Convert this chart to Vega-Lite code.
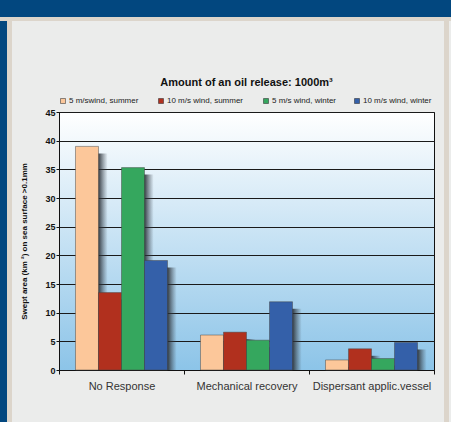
{
  "$schema": "https://vega.github.io/schema/vega-lite/v6.json",
  "background": "#ebeceb",
  "padding": 0,
  "spacing": 0,
  "config": {"font": "Liberation Sans", "view": {"stroke": null}},
  "resolve": {"scale": {"color": "independent"}, "legend": {"color": "independent"}},
  "vconcat": [
    {"width": 451, "height": 17, "data": {"values": []}, "mark": "rect", "encoding": {}, "view": {"fill": "#02477f", "stroke": null}},
    {"width": 451, "height": 4, "data": {"values": []}, "mark": "rect", "encoding": {}, "view": {"fill": "#dcd5cb", "stroke": null}},
    {
      "spacing": 0,
      "resolve": {"scale": {"color": "independent"}, "legend": {"color": "independent"}},
      "hconcat": [
        {"width": 7, "height": 401, "data": {"values": []}, "mark": "rect", "encoding": {}, "view": {"fill": "#02477f", "stroke": null}},
        {"width": 5, "height": 401, "data": {"values": []}, "mark": "rect", "encoding": {}, "view": {"fill": "#dcd5cb", "stroke": null}},
        {"width": 8, "height": 1, "data": {"values": []}, "mark": "rect", "encoding": {}, "view": {"stroke": null}},
        {
          "spacing": 0,
          "resolve": {"scale": {"color": "independent"}, "legend": {"color": "independent"}},
          "vconcat": [
            {"width": 1, "height": 55, "data": {"values": []}, "mark": "rect", "encoding": {}, "view": {"stroke": null}},
            {
              "width": 375,
              "height": 258,
              "title": {"text": "Amount of an oil release: 1000m³", "fontSize": 11, "fontWeight": "bold", "color": "#111111", "offset": 9, "anchor": "middle"},
              "data": {"values": [
                {"response": "No Response", "scenario": "5 m/swind,  summer", "area": 39.0},
                {"response": "No Response", "scenario": "10 m/s wind,  summer", "area": 13.5},
                {"response": "No Response", "scenario": "5 m/s wind, winter", "area": 35.3},
                {"response": "No Response", "scenario": "10 m/s wind, winter", "area": 19.1},
                {"response": "Mechanical recovery", "scenario": "5 m/swind,  summer", "area": 6.1},
                {"response": "Mechanical recovery", "scenario": "10 m/s wind,  summer", "area": 6.6},
                {"response": "Mechanical recovery", "scenario": "5 m/s wind, winter", "area": 5.2},
                {"response": "Mechanical recovery", "scenario": "10 m/s wind, winter", "area": 11.9},
                {"response": "Dispersant applic.vessel", "scenario": "5 m/swind,  summer", "area": 1.75},
                {"response": "Dispersant applic.vessel", "scenario": "10 m/s wind,  summer", "area": 3.7},
                {"response": "Dispersant applic.vessel", "scenario": "5 m/s wind, winter", "area": 2.0},
                {"response": "Dispersant applic.vessel", "scenario": "10 m/s wind, winter", "area": 4.8}
              ]},
              "view": {
                "fill": {"gradient": "linear", "x1": 0, "y1": 0, "x2": 0, "y2": 1, "stops": [{"offset": 0, "color": "#ffffff"}, {"offset": 1, "color": "#8cc4e8"}]},
                "stroke": "#111111",
                "strokeWidth": 1
              },
              "resolve": {"scale": {"xOffset": "independent"}},
              "encoding": {
                "x": {
                  "field": "response", "type": "nominal",
                  "sort": ["No Response", "Mechanical recovery", "Dispersant applic.vessel"],
                  "scale": {"paddingInner": 0, "paddingOuter": 0},
                  "axis": {"title": null, "labelAngle": 0, "tickBand": "extent", "tickSize": 4, "tickColor": "#111111", "domainColor": "#111111", "labelFontSize": 11, "labelColor": "#333333", "labelPadding": 6}
                },
                "y": {
                  "field": "area", "type": "quantitative",
                  "scale": {"domain": [0, 45]},
                  "axis": {"values": [0, 5, 10, 15, 20, 25, 30, 35, 40, 45], "title": "Swept area (km ²) on sea surface >0.1mm", "titleFontSize": 8, "titleFontWeight": "bold", "titleColor": "#111111", "titlePadding": 16, "labelFontSize": 9, "labelFontWeight": "bold", "labelColor": "#111111", "labelPadding": 1, "tickSize": 3, "tickColor": "#111111", "domainColor": "#111111", "gridColor": "#1a1a1a", "gridWidth": 1, "gridOpacity": 1}
                }
              },
              "layer": [
                {
                  "mark": {"type": "bar", "yOffset": 7, "clip": true,
                    "fill": {"gradient": "linear", "x1": 0, "y1": 0, "x2": 1, "y2": 0, "stops": [{"offset": 0, "color": "#1e2226"}, {"offset": 0.6, "color": "#262b31"}, {"offset": 1, "color": "rgba(70,80,90,0)"}]},
                    "opacity": 0.9},
                  "encoding": {
                    "xOffset": {
                      "field": "scenario", "type": "nominal",
                      "sort": ["5 m/swind,  summer", "10 m/s wind,  summer", "5 m/s wind, winter", "10 m/s wind, winter"],
                      "scale": {"paddingOuter": 0.717, "paddingInner": 0, "align": 0.78}
                    }
                  }
                },
                {
                  "mark": {"type": "bar", "stroke": "#444444", "strokeWidth": 0.6, "strokeOpacity": 0.8},
                  "encoding": {
                    "xOffset": {
                      "field": "scenario", "type": "nominal",
                      "sort": ["5 m/swind,  summer", "10 m/s wind,  summer", "5 m/s wind, winter", "10 m/s wind, winter"],
                      "scale": {"paddingOuter": 0.717, "paddingInner": 0}
                    },
                    "color": {
                      "field": "scenario", "type": "nominal",
                      "scale": {"domain": ["5 m/swind,  summer", "10 m/s wind,  summer", "5 m/s wind, winter", "10 m/s wind, winter"], "range": ["#fcc79a", "#b1301e", "#35a75e", "#3460a9"]},
                      "legend": {"orient": "top", "direction": "horizontal", "title": null, "symbolType": "square", "symbolSize": 25, "symbolStrokeColor": "#222222", "symbolStrokeWidth": 0.5, "symbolOpacity": 1, "labelFontSize": 8, "labelColor": "#222222", "labelOffset": 2, "columnPadding": 16, "offset": 7, "padding": 0}
                    }
                  }
                }
              ]
            }
          ]
        },
        {"width": 9, "height": 1, "data": {"values": []}, "mark": "rect", "encoding": {}, "view": {"stroke": null}},
        {"width": 5, "height": 401, "data": {"values": []}, "mark": "rect", "encoding": {}, "view": {"fill": "#dcd5cb", "stroke": null}}
      ]
    }
  ]
}
